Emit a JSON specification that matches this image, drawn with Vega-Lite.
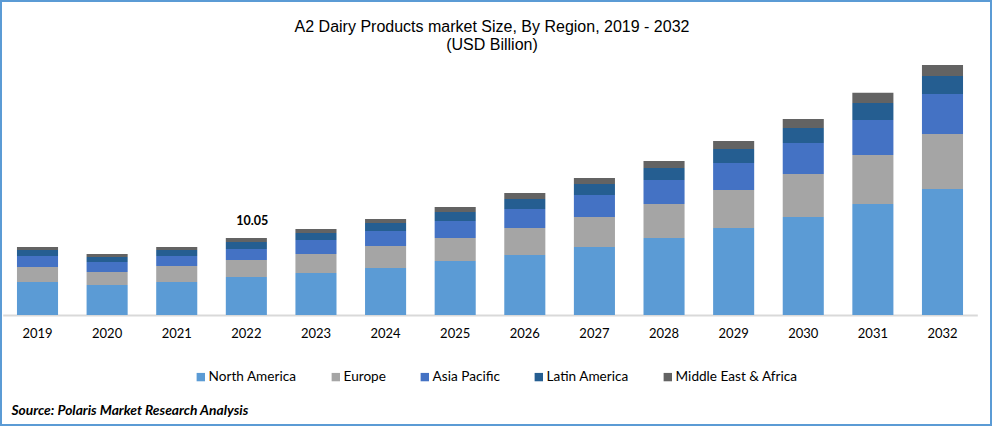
{
  "$schema": "https://vega.github.io/schema/vega-lite/v6.json",
  "width": 992,
  "height": 426,
  "padding": 0,
  "autosize": "none",
  "background": "white",
  "title": {
    "text": ["A2 Dairy Products market Size, By Region, 2019 - 2032", "(USD Billion)"],
    "anchor": "middle",
    "frame": "group",
    "orient": "top",
    "offset": -53,
    "dx": -4,
    "font": "Liberation Sans",
    "fontSize": 16,
    "fontWeight": "normal",
    "lineHeight": 18,
    "color": "#000000"
  },
  "datasets": {
    "sales": [
      {"year": "2019", "region": "North America", "rank": 1, "value": 4.31},
      {"year": "2019", "region": "Europe", "rank": 2, "value": 1.96},
      {"year": "2019", "region": "Asia Pacific", "rank": 3, "value": 1.44},
      {"year": "2019", "region": "Latin America", "rank": 4, "value": 0.78},
      {"year": "2019", "region": "Middle East & Africa", "rank": 5, "value": 0.39},
      {"year": "2020", "region": "North America", "rank": 1, "value": 3.92},
      {"year": "2020", "region": "Europe", "rank": 2, "value": 1.70},
      {"year": "2020", "region": "Asia Pacific", "rank": 3, "value": 1.31},
      {"year": "2020", "region": "Latin America", "rank": 4, "value": 0.65},
      {"year": "2020", "region": "Middle East & Africa", "rank": 5, "value": 0.39},
      {"year": "2021", "region": "North America", "rank": 1, "value": 4.31},
      {"year": "2021", "region": "Europe", "rank": 2, "value": 2.09},
      {"year": "2021", "region": "Asia Pacific", "rank": 3, "value": 1.31},
      {"year": "2021", "region": "Latin America", "rank": 4, "value": 0.78},
      {"year": "2021", "region": "Middle East & Africa", "rank": 5, "value": 0.39},
      {"year": "2022", "region": "North America", "rank": 1, "value": 4.96},
      {"year": "2022", "region": "Europe", "rank": 2, "value": 2.22},
      {"year": "2022", "region": "Asia Pacific", "rank": 3, "value": 1.44},
      {"year": "2022", "region": "Latin America", "rank": 4, "value": 0.91},
      {"year": "2022", "region": "Middle East & Africa", "rank": 5, "value": 0.52},
      {"year": "2023", "region": "North America", "rank": 1, "value": 5.48},
      {"year": "2023", "region": "Europe", "rank": 2, "value": 2.48},
      {"year": "2023", "region": "Asia Pacific", "rank": 3, "value": 1.83},
      {"year": "2023", "region": "Latin America", "rank": 4, "value": 0.91},
      {"year": "2023", "region": "Middle East & Africa", "rank": 5, "value": 0.52},
      {"year": "2024", "region": "North America", "rank": 1, "value": 6.13},
      {"year": "2024", "region": "Europe", "rank": 2, "value": 2.87},
      {"year": "2024", "region": "Asia Pacific", "rank": 3, "value": 1.96},
      {"year": "2024", "region": "Latin America", "rank": 4, "value": 1.04},
      {"year": "2024", "region": "Middle East & Africa", "rank": 5, "value": 0.52},
      {"year": "2025", "region": "North America", "rank": 1, "value": 7.05},
      {"year": "2025", "region": "Europe", "rank": 2, "value": 3.00},
      {"year": "2025", "region": "Asia Pacific", "rank": 3, "value": 2.22},
      {"year": "2025", "region": "Latin America", "rank": 4, "value": 1.17},
      {"year": "2025", "region": "Middle East & Africa", "rank": 5, "value": 0.65},
      {"year": "2026", "region": "North America", "rank": 1, "value": 7.83},
      {"year": "2026", "region": "Europe", "rank": 2, "value": 3.52},
      {"year": "2026", "region": "Asia Pacific", "rank": 3, "value": 2.48},
      {"year": "2026", "region": "Latin America", "rank": 4, "value": 1.31},
      {"year": "2026", "region": "Middle East & Africa", "rank": 5, "value": 0.78},
      {"year": "2027", "region": "North America", "rank": 1, "value": 8.87},
      {"year": "2027", "region": "Europe", "rank": 2, "value": 3.92},
      {"year": "2027", "region": "Asia Pacific", "rank": 3, "value": 2.87},
      {"year": "2027", "region": "Latin America", "rank": 4, "value": 1.44},
      {"year": "2027", "region": "Middle East & Africa", "rank": 5, "value": 0.78},
      {"year": "2028", "region": "North America", "rank": 1, "value": 10.05},
      {"year": "2028", "region": "Europe", "rank": 2, "value": 4.44},
      {"year": "2028", "region": "Asia Pacific", "rank": 3, "value": 3.13},
      {"year": "2028", "region": "Latin America", "rank": 4, "value": 1.57},
      {"year": "2028", "region": "Middle East & Africa", "rank": 5, "value": 0.91},
      {"year": "2029", "region": "North America", "rank": 1, "value": 11.35},
      {"year": "2029", "region": "Europe", "rank": 2, "value": 4.96},
      {"year": "2029", "region": "Asia Pacific", "rank": 3, "value": 3.52},
      {"year": "2029", "region": "Latin America", "rank": 4, "value": 1.83},
      {"year": "2029", "region": "Middle East & Africa", "rank": 5, "value": 1.04},
      {"year": "2030", "region": "North America", "rank": 1, "value": 12.79},
      {"year": "2030", "region": "Europe", "rank": 2, "value": 5.61},
      {"year": "2030", "region": "Asia Pacific", "rank": 3, "value": 4.05},
      {"year": "2030", "region": "Latin America", "rank": 4, "value": 1.96},
      {"year": "2030", "region": "Middle East & Africa", "rank": 5, "value": 1.17},
      {"year": "2031", "region": "North America", "rank": 1, "value": 14.49},
      {"year": "2031", "region": "Europe", "rank": 2, "value": 6.40},
      {"year": "2031", "region": "Asia Pacific", "rank": 3, "value": 4.57},
      {"year": "2031", "region": "Latin America", "rank": 4, "value": 2.22},
      {"year": "2031", "region": "Middle East & Africa", "rank": 5, "value": 1.31},
      {"year": "2032", "region": "North America", "rank": 1, "value": 16.44},
      {"year": "2032", "region": "Europe", "rank": 2, "value": 7.18},
      {"year": "2032", "region": "Asia Pacific", "rank": 3, "value": 5.22},
      {"year": "2032", "region": "Latin America", "rank": 4, "value": 2.35},
      {"year": "2032", "region": "Middle East & Africa", "rank": 5, "value": 1.44}
    ],
    "labels": [{"year": "2022", "total": 10.05}]
  },
  "encoding": {
    "x": {
      "field": "year",
      "type": "nominal",
      "scale": {"range": [2.7, 977.3], "paddingInner": 0.41, "paddingOuter": 0.205},
      "axis": {
        "offset": -111,
        "labelAngle": 0,
        "labelFont": "Lato",
        "labelFontSize": 13,
        "labelColor": "#000000",
        "labelPadding": 12,
        "ticks": false,
        "grid": false,
        "domainColor": "#d9d9d9",
        "domainWidth": 2,
        "title": "Source: Polaris  Market Research Analysis",
        "titleFont": "Lato",
        "titleFontSize": 13.8,
        "titleFontStyle": "italic",
        "titleFontWeight": "bold",
        "titleColor": "#000000",
        "titleAnchor": "start",
        "titleAlign": "left",
        "titleBaseline": "middle",
        "titleX": 11,
        "titleY": 95
      }
    }
  },
  "layer": [
    {
      "data": {"name": "sales"},
      "mark": {"type": "bar"},
      "encoding": {
        "y": {
          "field": "value",
          "type": "quantitative",
          "aggregate": "sum",
          "stack": "zero",
          "scale": {"domain": [0, 41.11], "range": [315, 0], "nice": false},
          "axis": null
        },
        "color": {
          "field": "region",
          "type": "nominal",
          "scale": {
            "domain": ["North America", "Europe", "Asia Pacific", "Latin America", "Middle East & Africa"],
            "range": ["#5B9BD5", "#A5A5A5", "#4472C4", "#255E91", "#636363"]
          },
          "legend": {
            "orient": "none",
            "legendX": 194,
            "legendY": 370,
            "direction": "horizontal",
            "columns": 5,
            "title": null,
            "symbolType": "square",
            "symbolSize": 70,
            "symbolStrokeWidth": 0,
            "labelFont": "Lato",
            "labelFontSize": 13.6,
            "labelColor": "#000000",
            "labelOffset": 1,
            "columnPadding": 32
          }
        },
        "order": {"field": "rank", "type": "ordinal"}
      }
    },
    {
      "data": {"name": "labels"},
      "mark": {
        "type": "text",
        "baseline": "bottom",
        "dx": 6,
        "dy": -10,
        "font": "Lato",
        "fontSize": 12.5,
        "fontWeight": "bold",
        "color": "#000000"
      },
      "encoding": {
        "y": {"field": "total", "type": "quantitative"},
        "text": {"field": "total", "type": "quantitative", "format": ".2f"}
      }
    }
  ],
  "config": {
    "view": {"stroke": "#5B9BD5", "strokeWidth": 4}
  }
}
